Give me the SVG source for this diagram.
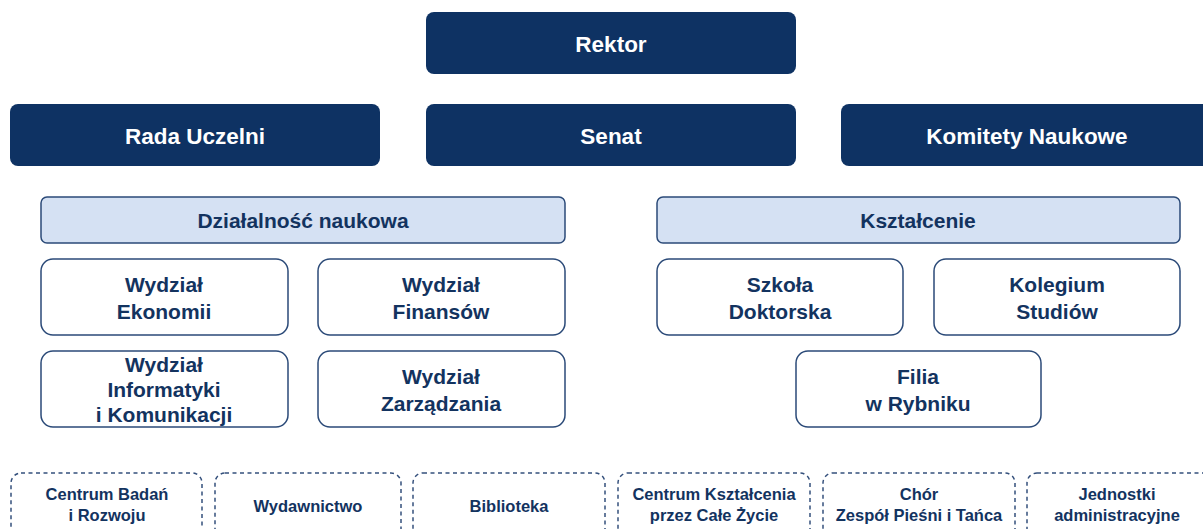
<svg xmlns="http://www.w3.org/2000/svg" width="1203" height="529" viewBox="0 0 1203 529">
<style>
text{font-family:"Liberation Sans",Arial,sans-serif;font-weight:bold;text-anchor:middle}
.dark rect{fill:#0e3263}
.dark text{fill:#fff;font-size:22.5px}
.sec rect{fill:#d5e1f3;stroke:#2b4a78;stroke-width:1.5}
.sec text{fill:#13335f;font-size:21px}
.unit rect{fill:#fff;stroke:#2b4a78;stroke-width:1.5}
.unit text{fill:#13335f;font-size:21px}
.aux rect{fill:#fff;stroke:#34507c;stroke-width:1.5;stroke-dasharray:4 3.5}
.aux text{fill:#13335f;font-size:16.5px}
</style>
<rect width="1203" height="529" fill="#fff"/>
<g id="connectors"/>
<g id="rektor" class="dark"><rect x="426" y="12" width="370" height="62" rx="8"/><text x="611" y="52">Rektor</text></g>
<g id="rada" class="dark"><rect x="10" y="104" width="370" height="62" rx="8"/><text x="195" y="144">Rada Uczelni</text></g>
<g id="senat" class="dark"><rect x="426" y="104" width="370" height="62" rx="8"/><text x="611" y="144">Senat</text></g>
<g id="komitety" class="dark"><rect x="841" y="104" width="372" height="62" rx="8"/><text x="1027" y="144">Komitety Naukowe</text></g>

<g id="dzialalnosc" class="sec"><rect x="41" y="197" width="524" height="46" rx="6"/><text x="303" y="228">Działalność naukowa</text></g>
<g id="ksztalcenie" class="sec"><rect x="657" y="197" width="523" height="46" rx="6"/><text x="918" y="228">Kształcenie</text></g>

<g id="ekonomii" class="unit"><rect x="41" y="259" width="247" height="76" rx="12"/><text x="164" y="292">Wydział</text><text x="164" y="319">Ekonomii</text></g>
<g id="finansow" class="unit"><rect x="318" y="259" width="247" height="76" rx="12"/><text x="441" y="292">Wydział</text><text x="441" y="319">Finansów</text></g>
<g id="informatyki" class="unit"><rect x="41" y="351" width="247" height="76" rx="12"/><text x="164" y="372">Wydział</text><text x="164" y="397">Informatyki</text><text x="164" y="422">i Komunikacji</text></g>
<g id="zarzadzania" class="unit"><rect x="318" y="351" width="247" height="76" rx="12"/><text x="441" y="384">Wydział</text><text x="441" y="411">Zarządzania</text></g>

<g id="szkola" class="unit"><rect x="657" y="259" width="246" height="76" rx="12"/><text x="780" y="292">Szkoła</text><text x="780" y="319">Doktorska</text></g>
<g id="kolegium" class="unit"><rect x="934" y="259" width="246" height="76" rx="12"/><text x="1057" y="292">Kolegium</text><text x="1057" y="319">Studiów</text></g>
<g id="filia" class="unit"><rect x="796" y="351" width="245" height="76" rx="12"/><text x="918" y="384">Filia</text><text x="918" y="411">w Rybniku</text></g>

<g id="cbr" class="aux"><rect x="11" y="473" width="191" height="80" rx="10"/><text x="107" y="500">Centrum Badań</text><text x="107" y="521">i Rozwoju</text></g>
<g id="wydawnictwo" class="aux"><rect x="215" y="473" width="186" height="80" rx="10"/><text x="308" y="512">Wydawnictwo</text></g>
<g id="biblioteka" class="aux"><rect x="413" y="473" width="192" height="80" rx="10"/><text x="509" y="512">Biblioteka</text></g>
<g id="cksz" class="aux"><rect x="618" y="473" width="192" height="80" rx="10"/><text x="714" y="500">Centrum Kształcenia</text><text x="714" y="521">przez Całe Życie</text></g>
<g id="chor" class="aux"><rect x="823" y="473" width="192" height="80" rx="10"/><text x="919" y="500">Chór</text><text x="919" y="521">Zespół Pieśni i Tańca</text></g>
<g id="jednostki" class="aux"><rect x="1027" y="473" width="193" height="80" rx="10"/><text x="1117" y="500">Jednostki</text><text x="1117" y="521">administracyjne</text></g>
</svg>
